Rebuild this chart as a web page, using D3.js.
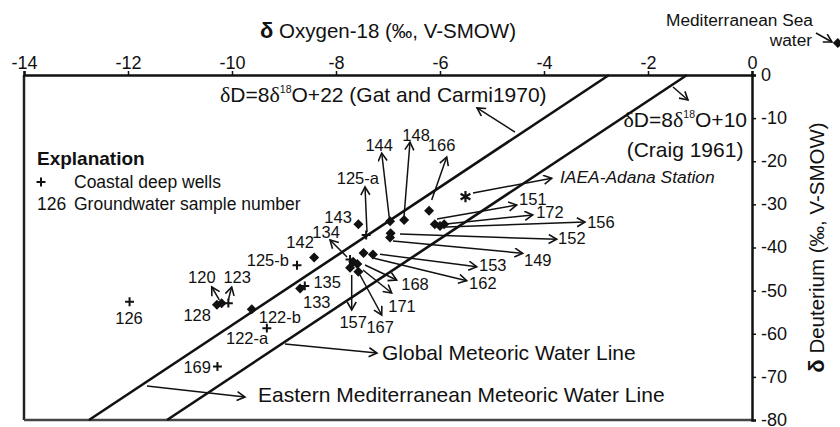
<!DOCTYPE html>
<html><head><meta charset="utf-8">
<script src="https://cdn.jsdelivr.net/npm/d3@7"></script>
<style>html,body{margin:0;padding:0;background:#fff}svg{display:block}text{font-family:"Liberation Sans",Arial,sans-serif;fill:#111}</style>
</head><body><div id="chart"></div>
<script>
// ---------- data ----------
const xTicks = [-14, -12, -10, -8, -6, -4, -2, 0];
const yTicks = [0, -10, -20, -30, -40, -50, -60, -70, -80];

// groundwater samples (diamonds)
const sampleIds = ["143","144","148","166","151","172","156","152","149","153","162","168","171","157","167","142","133","122-b","120","128"];
const sampleO18 = [-7.57,-6.96,-6.69,-6.21,-6.10,-5.92,-6.00,-6.95,-6.96,-7.29,-7.47,-7.67,-7.59,-7.73,-7.57,-8.42,-8.69,-9.62,-10.29,-10.20];
const sampleD   = [-34.6,-33.9,-33.6,-31.5,-34.6,-34.6,-35.0,-36.7,-37.7,-41.6,-41.3,-43.3,-43.8,-44.7,-45.6,-42.3,-49.5,-54.3,-53.3,-52.9];

// coastal deep wells (plus)
const wellIds = ["125-a","134","125-b","135","123","122-a","169","126"];
const wellO18 = [-7.42,-7.73,-8.75,-8.60,-10.07,-9.33,-10.28,-11.97];
const wellD   = [-37.1,-42.8,-44.1,-48.9,-52.9,-58.7,-67.6,-52.6];

// IAEA Adana station (asterisk) and Mediterranean sea water (diamond)
const iaeaO18 = -5.51, iaeaD = -28.2;
const seaO18 = 1.65, seaD = 7.4;

// meteoric water lines: dD = 8*d18O + intercept
const lineSlope = 8;
const lineIntercepts = [22, 10];

// plain sample labels (centre, data units)
const plainLabels = ["143","142","125-b","135","133","122-b","122-a","169","126","128"];
const plainLabelO18 = [-7.96,-8.69,-9.31,-8.17,-8.37,-9.08,-9.71,-10.67,-11.98,-10.67];
const plainLabelD   = [-32.9,-38.7,-42.9,-48.0,-52.6,-56.1,-61.0,-67.7,-56.35,-55.65];

// labels with arrows, label centred (data units)
const arrowLabels = ["144","148","166","125-a","134","120","123","157","167","171","168"];
const arrowLabelO18 = [-7.17,-6.46,-5.97,-7.58,-8.19,-10.58,-9.90,-7.67,-7.15,-6.73,-6.48];
const arrowLabelD   = [-16.2,-13.9,-16.2,-23.9,-36.4,-46.8,-46.8,-57.3,-58.4,-53.6,-48.5];
const arrowFromO18  = [-6.975,-6.692,-6.160,-7.404,-7.788,-10.244,-10.071,-7.698,-7.538,-7.481,-7.442];
const arrowFromD    = [-33.16,-32.86,-28.99,-36.41,-42.20,-52.17,-52.17,-46.38,-46.38,-45.22,-44.06];
const arrowToO18    = [-7.121,-6.577,-5.871,-7.442,-8.115,-10.390,-10.006,-7.698,-7.121,-6.929,-6.833];
const arrowToD      = [-18.09,-15.54,-19.01,-25.97,-38.26,-49.16,-49.16,-54.49,-55.65,-50.55,-47.54];

// labels with arrows pointing right, label left-anchored (data units)
const rightLabels = ["151","172","156","152","149","153","162"];
const rightLabelO18 = [-4.48,-4.15,-3.17,-3.73,-4.385,-5.25,-5.44];
const rightLabelD   = [-28.75,-31.77,-34.09,-37.87,-42.90,-44.06,-48.30];
const rightFromO18  = [-6.058,-5.885,-5.885,-6.769,-6.904,-7.154,-7.288];
const rightFromD    = [-33.39,-34.55,-35.25,-36.87,-38.49,-41.58,-42.43];
const rightToO18    = [-4.525,-4.217,-3.212,-3.756,-4.410,-5.294,-5.487];
const rightToD      = [-30.14,-32.46,-34.09,-38.10,-41.34,-44.45,-47.70];

// ---------- chart ----------
const W = 840, H = 427;
const x = d3.scaleLinear().domain([-14, 0]).range([24, 752]);
const y = d3.scaleLinear().domain([0, -80]).range([75, 420]);
const SERIF = '"Liberation Serif", "Times New Roman", serif';

const svg = d3.select("#chart").append("svg").attr("width", W).attr("height", H);
svg.append("rect").attr("width", W).attr("height", H).attr("fill", "#fff");

svg.append("defs").append("marker")
  .attr("id", "arr").attr("markerUnits", "userSpaceOnUse")
  .attr("markerWidth", 12).attr("markerHeight", 12)
  .attr("refX", 9).attr("refY", 5).attr("orient", "auto")
  .append("path").attr("d", "M1,0.5 L9,5 L1,9.5")
  .attr("fill", "none").attr("stroke", "#111").attr("stroke-width", 1.6);

// frame: left + bottom lines
svg.append("line").attr("x1", x(-14)).attr("x2", x(-14)).attr("y1", y(0)).attr("y2", y(-80))
  .attr("stroke", "#222").attr("stroke-width", 2.5);
svg.append("line").attr("x1", x(-14)).attr("x2", x(0)).attr("y1", y(-80)).attr("y2", y(-80))
  .attr("stroke", "#444").attr("stroke-width", 2.5);

// top axis
const gTop = svg.append("g").attr("transform", `translate(0,${y(0)})`)
  .call(d3.axisTop(x).tickValues(xTicks).tickSize(4).tickPadding(2).tickFormat(d3.format("d")));
// right axis
const gRight = svg.append("g").attr("transform", `translate(${x(0)},0)`)
  .call(d3.axisRight(y).tickValues(yTicks).tickSize(4).tickPadding(5).tickFormat(d3.format("d")));
[gTop, gRight].forEach(g => {
  g.select(".domain").attr("stroke", "#111").attr("stroke-width", 2.5);
  g.selectAll(".tick line").attr("stroke", "#111").attr("stroke-width", 1.5);
  g.selectAll(".tick text").attr("font-size", 18).attr("fill", "#111")
    .attr("font-family", '"Liberation Sans", Arial, sans-serif')
    .text(d => d < 0 ? "-" + Math.abs(d) : d);
});
gRight.selectAll(".tick text").attr("dy", "0.3em");

// axis titles
const tTop = svg.append("text").attr("x", (x(-14) + x(0)) / 2).attr("y", 38)
  .attr("text-anchor", "middle").attr("font-size", 20.5);
tTop.append("tspan").attr("font-weight", "bold").attr("font-size", 22).text("δ");
tTop.append("tspan").text(" Oxygen-18 (‰, V-SMOW)");

const tRight = svg.append("text")
  .attr("transform", `translate(824,${(y(0) + y(-80)) / 2}) rotate(-90)`)
  .attr("text-anchor", "middle").attr("font-size", 20.5);
tRight.append("tspan").attr("font-weight", "bold").attr("font-size", 22).text("δ");
tRight.append("tspan").text(" Deuterium (‰, V-SMOW)");

// meteoric water lines, clipped to plot (dD from -80 to 0)
lineIntercepts.forEach(b => {
  const o1 = (0 - b) / lineSlope, o2 = (-80 - b) / lineSlope;
  svg.append("line").attr("x1", x(o1)).attr("y1", y(0)).attr("x2", x(o2)).attr("y2", y(-80))
    .attr("stroke", "#111").attr("stroke-width", 2.6);
});

function arrow(fx, fy, tx, ty) {
  svg.append("line").attr("x1", x(fx)).attr("y1", y(fy)).attr("x2", x(tx)).attr("y2", y(ty))
    .attr("stroke", "#111").attr("stroke-width", 1.5).attr("marker-end", "url(#arr)");
}

// equation labels
function eqText(px, py, anchor, intercept, size) {
  const t = svg.append("text").attr("x", px).attr("y", py).attr("text-anchor", anchor)
    .attr("font-size", size).attr("dy", "0.35em");
  t.append("tspan").attr("font-family", SERIF).attr("font-size", size + 1).text("δ");
  t.append("tspan").text("D=8");
  t.append("tspan").attr("font-family", SERIF).attr("font-size", size + 1).text("δ");
  t.append("tspan").attr("font-size", size * 0.5).attr("dy", "-0.9em").text("18");
  t.append("tspan").attr("dy", "0.45em").text("O+" + intercept);
  return t;
}
const gat = eqText(x(-10.231), y(-4.64), "start", 22, 21);
gat.append("tspan").text(" (Gat and Carmi1970)");
arrow(-4.558, -13.22, -5.288, -7.65);

eqText(x(-0.096), y(-10.43), "end", 10, 21);
svg.append("text").attr("x", x(-1.288)).attr("y", y(-17.39)).attr("dy", "0.35em")
  .attr("text-anchor", "middle").attr("font-size", 21).text("(Craig 1961)");
arrow(-1.519, -2.78, -1.231, -5.80);

// GMWL and EMMWL labels
arrow(-8.981, -62.38, -7.212, -64.46);
svg.append("text").attr("x", x(-7.115)).attr("y", y(-64.46)).attr("dy", "0.35em")
  .attr("font-size", 21).text("Global Meteoric Water Line");
arrow(-11.635, -72.12, -9.75, -74.67);
svg.append("text").attr("x", x(-9.5)).attr("y", y(-74.2)).attr("dy", "0.35em")
  .attr("font-size", 21).text("Eastern Mediterranean Meteoric Water Line");

// Mediterranean sea water
svg.append("text").attr("x", x(1.173)).attr("y", y(12.75)).attr("dy", "0.35em")
  .attr("text-anchor", "end").attr("font-size", 17.3).text("Mediterranean Sea");
svg.append("text").attr("x", x(1.154)).attr("y", y(8.12)).attr("dy", "0.35em")
  .attr("text-anchor", "end").attr("font-size", 17.3).text("water");
arrow(1.231, 9.74, 1.538, 7.65);

// IAEA
arrow(-5.365, -27.36, -3.852, -23.95);
svg.append("text").attr("x", x(-3.692)).attr("y", y(-23.65)).attr("dy", "0.35em")
  .attr("font-size", 17.4).attr("font-style", "italic").text("IAEA-Adana Station");

// sample arrows + labels
arrowLabels.forEach((l, i) => arrow(arrowFromO18[i], arrowFromD[i], arrowToO18[i], arrowToD[i]));
rightLabels.forEach((l, i) => arrow(rightFromO18[i], rightFromD[i], rightToO18[i], rightToD[i]));

const LS = 16.5;
svg.selectAll("text.pl").data(plainLabels).join("text").attr("class", "pl")
  .attr("x", (d, i) => x(plainLabelO18[i])).attr("y", (d, i) => y(plainLabelD[i]))
  .attr("dy", "0.35em").attr("text-anchor", "middle").attr("font-size", LS).text(d => d);
svg.selectAll("text.al").data(arrowLabels).join("text").attr("class", "al")
  .attr("x", (d, i) => x(arrowLabelO18[i])).attr("y", (d, i) => y(arrowLabelD[i]))
  .attr("dy", "0.35em").attr("text-anchor", "middle").attr("font-size", LS).text(d => d);
svg.selectAll("text.rl").data(rightLabels).join("text").attr("class", "rl")
  .attr("x", (d, i) => x(rightLabelO18[i])).attr("y", (d, i) => y(rightLabelD[i]))
  .attr("dy", "0.35em").attr("text-anchor", "start").attr("font-size", LS).text(d => d);

// diamonds
const diamond = d3.symbol().type(d3.symbolSquare).size(50);
svg.selectAll("path.dia").data(sampleIds).join("path").attr("class", "dia")
  .attr("d", diamond)
  .attr("transform", (d, i) => `translate(${x(sampleO18[i])},${y(sampleD[i])}) rotate(45)`)
  .attr("fill", "#111");
svg.append("path").attr("d", diamond)
  .attr("transform", `translate(${x(seaO18)},${y(seaD)}) rotate(45)`).attr("fill", "#111");

// plus (wells)
const plus = d3.symbol().type(d3.symbolPlus).size(28);
svg.selectAll("path.well").data(wellIds).join("path").attr("class", "well")
  .attr("d", plus)
  .attr("transform", (d, i) => `translate(${x(wellO18[i])},${y(wellD[i])})`)
  .attr("fill", "none").attr("stroke", "#111").attr("stroke-width", 2);

// asterisk
svg.append("path").attr("d", d3.symbol().type(d3.symbolAsterisk).size(90))
  .attr("transform", `translate(${x(iaeaO18)},${y(iaeaD)})`)
  .attr("fill", "none").attr("stroke", "#111").attr("stroke-width", 2.2);

// explanation
svg.append("text").attr("x", 37).attr("y", 158).attr("dy", "0.35em")
  .attr("font-size", 19).attr("font-weight", "bold").text("Explanation");
svg.append("path").attr("d", plus).attr("transform", "translate(41,182)")
  .attr("fill", "none").attr("stroke", "#111").attr("stroke-width", 2);
svg.append("text").attr("x", 74).attr("y", 182).attr("dy", "0.35em")
  .attr("font-size", 17.5).text("Coastal deep wells");
svg.append("text").attr("x", 37).attr("y", 204).attr("dy", "0.35em")
  .attr("font-size", 17.5).text("126");
svg.append("text").attr("x", 74).attr("y", 204).attr("dy", "0.35em")
  .attr("font-size", 17.5).text("Groundwater sample number");
</script></body></html>
